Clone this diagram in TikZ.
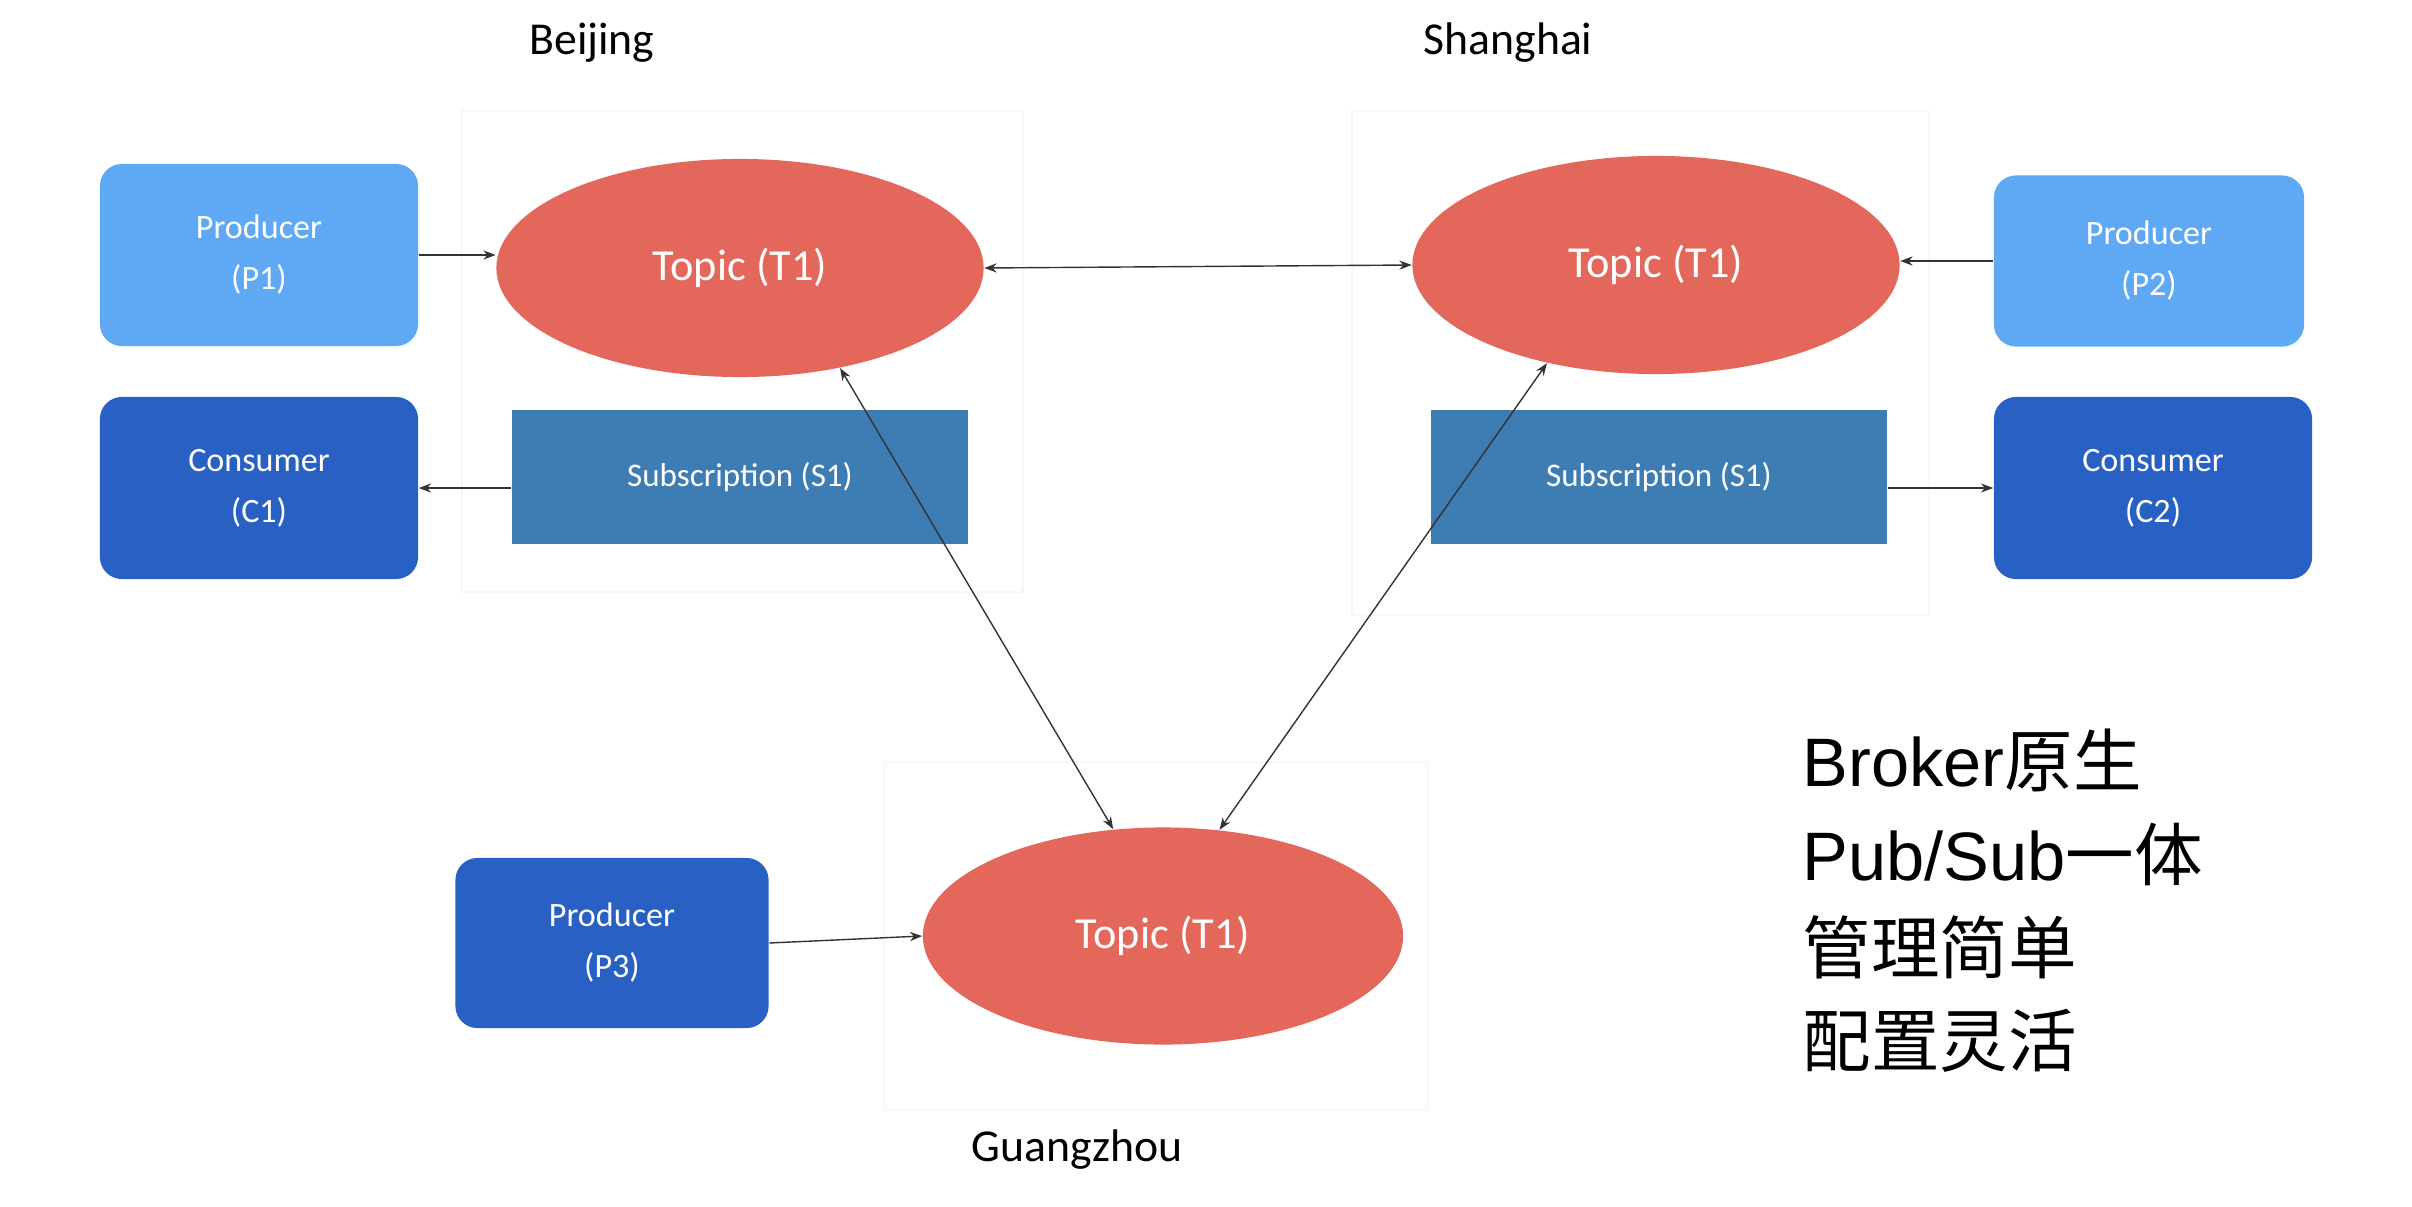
\documentclass[tikz,border=0pt]{standalone}
\usepackage{fontspec}
\setmainfont{Carlito}
\newfontfamily\cjk{Noto Sans CJK SC}
\newfontfamily\latinsans{Liberation Sans}
\usetikzlibrary{shapes.geometric,arrows.meta}
\definecolor{topicred}{HTML}{E4675C}
\definecolor{prodlight}{HTML}{5EA8F4}
\definecolor{nodedark}{HTML}{2860C4}
\definecolor{subblue}{HTML}{3D7DB4}

\begin{document}
\begin{tikzpicture}[x=0.01cm,y=-0.01cm,
  box/.style={rounded corners=0.22cm, minimum width=3.18cm, minimum height=1.82cm,
    inner sep=0pt, align=center, text=white, font=\fontsize{9.7}{14.5}\selectfont},
  topic/.style={ellipse, fill=topicred, minimum width=4.87cm, minimum height=2.18cm,
    inner sep=0pt, text=white, font=\fontsize{12.6}{15}\selectfont},
  subbox/.style={fill=subblue, minimum width=4.56cm, minimum height=1.34cm,
    inner sep=0pt, text=white, font=\fontsize{9.4}{11}\selectfont},
  city/.style={font=\fontsize{13}{15}\selectfont},
  note/.style={anchor=base west, inner sep=0pt, font=\fontsize{19.5}{24}\selectfont},
  frame/.style={draw=black!3, line width=0.3pt},
  link/.style={draw=black!80, line width=0.4pt, -{Stealth[length=3.5pt,width=2.6pt]}},
  both/.style={link, {Stealth[length=3.5pt,width=2.6pt]}-{Stealth[length=3.5pt,width=2.6pt]}}]
  \useasboundingbox (0,0) rectangle (2412,1206);

  \draw[frame] (462,111) rectangle (1023,592);
  \draw[frame] (1352,111) rectangle (1929,615);
  \draw[frame] (884,762) rectangle (1428,1110);

  \node[city] (bj) at (592,43) {Beijing};
  \node[city] (sh) at (1508,43) {Shanghai};
  \node[city] (gz) at (1077,1150) {Guangzhou};

  \node[box, fill=prodlight] (p1) at (259,255) {Producer\\(P1)};
  \node[box, fill=nodedark] (c1) at (259,488) {Consumer\\(C1)};
  \node[topic] (t1bj) at (740,268) {Topic (T1)};
  \node[subbox] (s1bj) at (740,477) {Subscription (S1)};

  \node[topic] (t1sh) at (1656,265) {Topic (T1)};
  \node[subbox] (s1sh) at (1659,477) {Subscription (S1)};
  \node[box, fill=prodlight, minimum width=3.1cm, minimum height=1.71cm] (p2) at (2149,261) {Producer\\(P2)};
  \node[box, fill=nodedark] (c2) at (2153,488) {Consumer\\(C2)};

  \node[topic, minimum width=4.8cm, minimum height=2.17cm] (t1gz) at (1163,936) {Topic (T1)};
  \node[box, fill=nodedark, minimum width=3.13cm, minimum height=1.7cm] (p3) at (612,943) {Producer\\(P3)};

  \draw[link] (p1.east) -- (p1.east -| t1bj.west);
  \draw[link] (c1.east -| s1bj.west) -- (c1.east);
  \draw[link] (p2.west) -- (p2.west -| t1sh.east);
  \draw[link] (c2.west -| s1sh.east) -- (c2.west);
  \draw[link] (p3.east) -- (t1gz.west);
  \draw[both] (t1bj.east) -- (t1sh.west);
  \draw[both] (t1bj.-45) -- (t1gz.115);
  \draw[both] (t1sh.-138) -- (t1gz.62);

  \node[note] (n1) at (1802,786) {\latinsans Broker\cjk 原生};
  \node[note] (n2) at (1802,880) {\latinsans Pub/Sub\cjk 一体};
  \node[note] (n3) at (1802,973) {\cjk 管理简单};
  \node[note] (n4) at (1802,1066) {\cjk 配置灵活};
\end{tikzpicture}
\end{document}
